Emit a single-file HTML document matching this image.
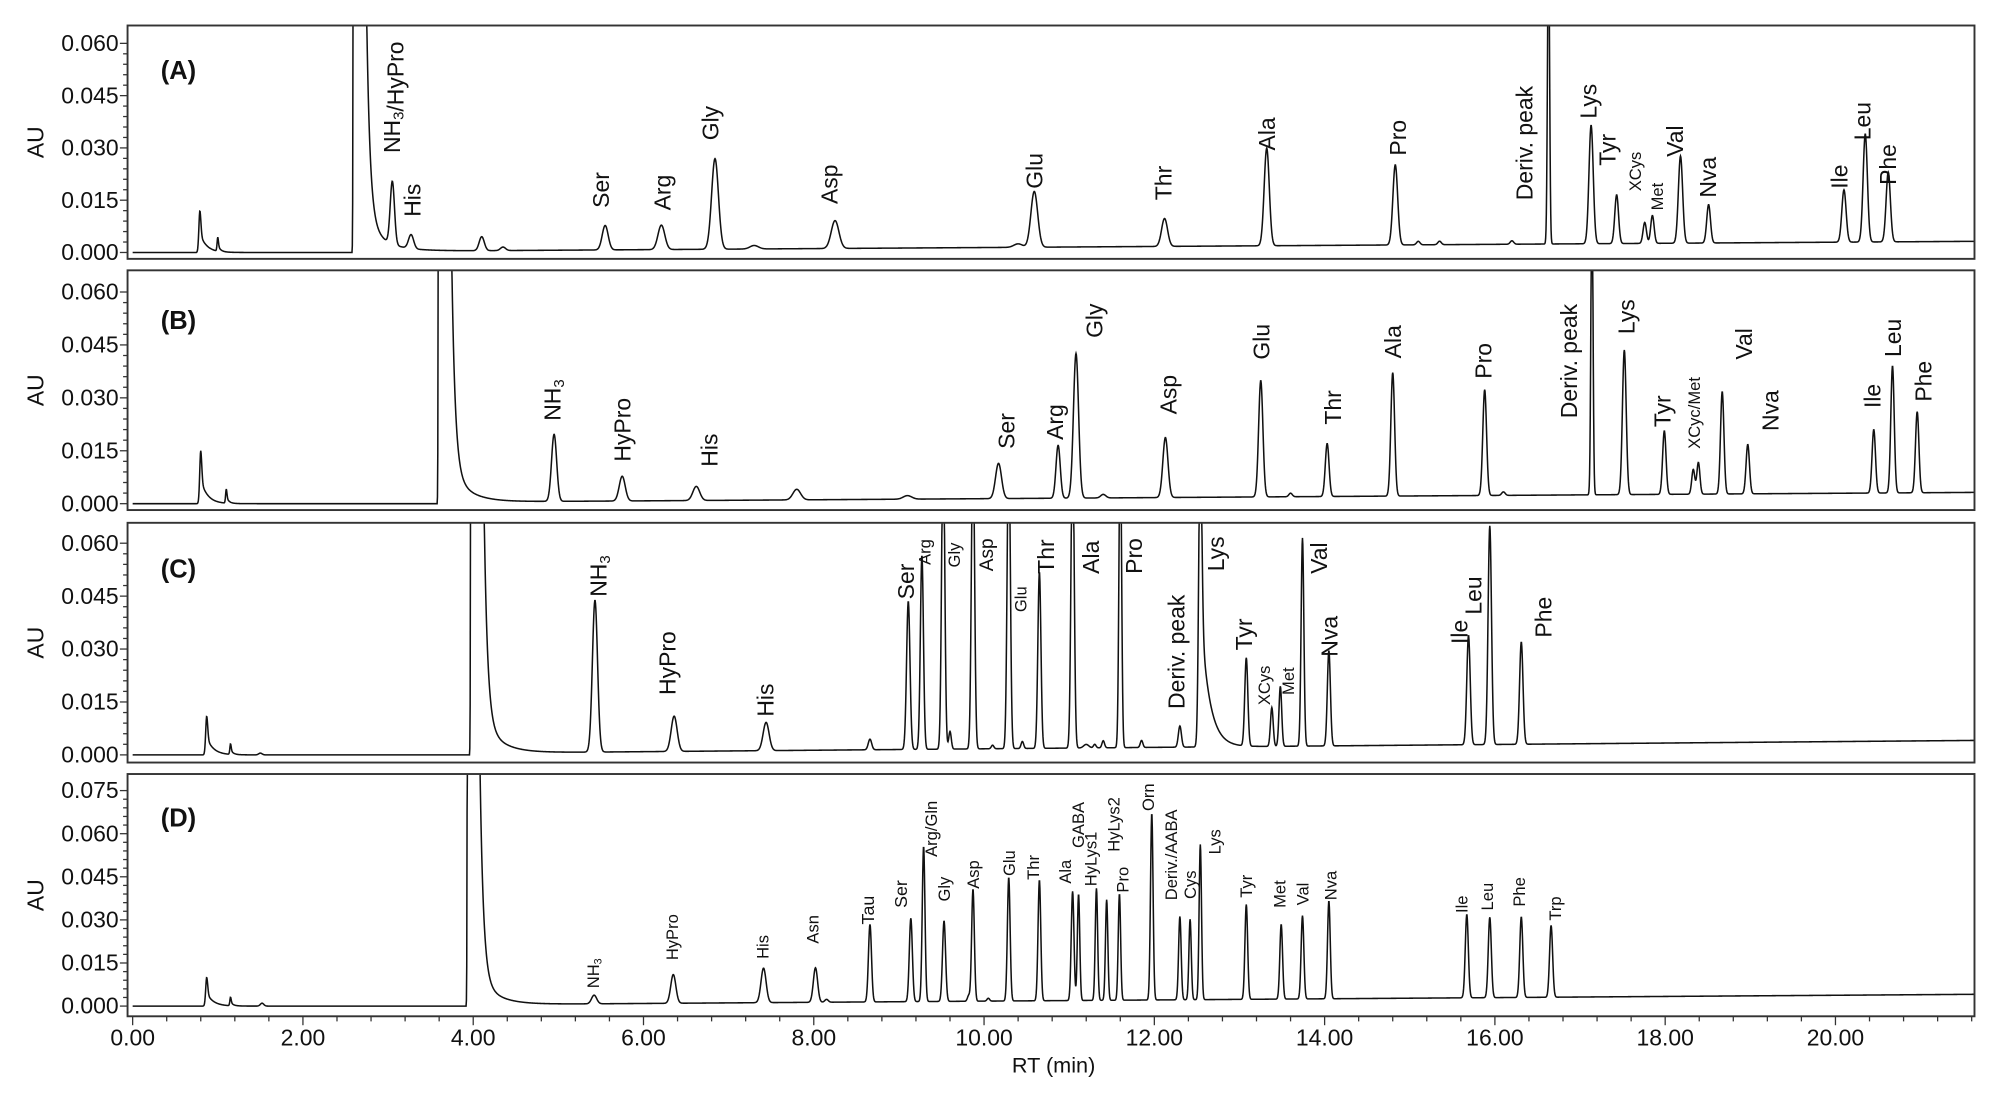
<!DOCTYPE html>
<html><head><meta charset="utf-8"><style>
html,body{margin:0;padding:0;background:#fff;}
svg{display:block;}
text{font-family:"Liberation Sans",Arial,sans-serif;fill:#111;}
</style></head><body>
<svg id="s" width="2000" height="1103" viewBox="0 0 1568 865" preserveAspectRatio="none" xmlns="http://www.w3.org/2000/svg"></svg>
<script>
const S=document.getElementById('s');let out='';
const X0=104,PX=66.75,L=100,R=1548;
const tx=t=>X0+PX*t;
const panels=[
 {top:20,bot:203,y0:198,ymax:0.060,ytop:34,ticks:[0,0.015,0.030,0.045,0.060],name:'(A)',ly:62,
  solv:2.6,end:0.003,
  peaks:[[0.79,0.012,0.012,0.08],[1.0,0.004,0.008,0.03],[3.05,0.018,0.025,0],[3.27,0.004,0.03,0],[4.1,0.004,0.03,0],[4.35,0.001,0.03,0],[5.55,0.007,0.035,0],[6.21,0.007,0.04,0],[6.84,0.026,0.04,0],[7.3,0.001,0.05,0],[8.25,0.008,0.045,0],[10.4,0.001,0.05,0],[10.59,0.016,0.04,0],[12.12,0.008,0.035,0],[13.32,0.028,0.03,0],[14.83,0.023,0.028,0],[15.1,0.001,0.02,0],[15.35,0.001,0.02,0],[16.2,0.001,0.02,0],[16.63,0.09,0.012,0],[17.13,0.034,0.025,0],[17.43,0.014,0.022,0],[17.76,0.006,0.02,0],[17.85,0.008,0.02,0],[18.18,0.025,0.025,0],[18.51,0.011,0.022,0],[20.1,0.015,0.025,0],[20.35,0.031,0.025,0],[20.62,0.020,0.025,0]],
  labels:[[307,120,'NH3/HyPro',18],[323,170,'His',18],[471,163,'Ser',18],[519,165,'Arg',18],[557,110,'Gly',18],[650,160,'Asp',18],[811,148,'Glu',18],[912,157,'Thr',18],[993,118,'Ala',18],[1096,122,'Pro',18],[1195,157,'Deriv. peak',18],[1245,93,'Lys',18],[1260,130,'Tyr',18],[1282,150,'XCys',13],[1299,165,'Met',13],[1313,123,'Val',18],[1339,155,'Nva',18],[1442,148,'Ile',18],[1460,110,'Leu',18],[1480,145,'Phe',18]]},
 {top:212,bot:400,y0:395,ymax:0.060,ytop:229,ticks:[0,0.015,0.030,0.045,0.060],name:'(B)',ly:258,
  solv:3.6,end:0.003,
  peaks:[[0.8,0.015,0.012,0.08],[1.1,0.004,0.008,0.03],[4.95,0.019,0.03,0],[5.75,0.007,0.035,0],[6.62,0.004,0.04,0],[7.8,0.003,0.045,0],[9.1,0.001,0.05,0],[10.17,0.010,0.035,0],[10.87,0.015,0.025,0],[11.08,0.041,0.03,0],[11.4,0.001,0.03,0],[12.13,0.017,0.03,0],[13.25,0.033,0.025,0],[13.6,0.001,0.02,0],[14.03,0.015,0.022,0],[14.8,0.035,0.022,0],[15.88,0.030,0.022,0],[16.1,0.001,0.02,0],[17.14,0.09,0.012,0],[17.52,0.041,0.022,0],[17.99,0.018,0.02,0],[18.33,0.007,0.018,0],[18.39,0.009,0.018,0],[18.67,0.029,0.02,0],[18.97,0.014,0.02,0],[20.45,0.018,0.02,0],[20.67,0.036,0.02,0],[20.96,0.023,0.02,0]],
  labels:[[433,330,'NH3',18],[488,362,'HyPro',18],[556,366,'His',18],[789,352,'Ser',18],[827,345,'Arg',18],[858,265,'Gly',18],[916,325,'Asp',18],[989,282,'Glu',18],[1045,333,'Thr',18],[1092,281,'Ala',18],[1163,297,'Pro',18],[1230,328,'Deriv. peak',18],[1275,262,'Lys',18],[1303,335,'Tyr',18],[1328,352,'XCyc/Met',13],[1367,282,'Val',18],[1388,338,'Nva',18],[1468,320,'Ile',18],[1484,280,'Leu',18],[1508,315,'Phe',18]]},
 {top:410,bot:598,y0:592,ymax:0.060,ytop:426,ticks:[0,0.015,0.030,0.045,0.060],name:'(C)',ly:453,
  solv:3.98,end:0.004,
  peaks:[[0.87,0.011,0.012,0.08],[1.15,0.003,0.008,0.03],[1.5,0.0005,0.02,0],[5.43,0.043,0.03,0],[6.36,0.010,0.035,0],[7.44,0.008,0.035,0],[8.66,0.003,0.02,0],[9.11,0.042,0.02,0],[9.27,0.055,0.018,0],[9.52,0.09,0.018,0],[9.6,0.005,0.015,0],[9.87,0.09,0.018,0],[10.1,0.001,0.015,0],[10.29,0.09,0.018,0],[10.45,0.002,0.015,0],[10.65,0.050,0.018,0],[11.04,0.09,0.018,0],[11.2,0.001,0.03,0],[11.3,0.001,0.015,0],[11.4,0.002,0.015,0],[11.6,0.09,0.015,0],[11.85,0.002,0.015,0],[12.3,0.006,0.018,0],[12.54,0.09,0.018,0.1],[13.08,0.025,0.018,0],[13.38,0.011,0.016,0],[13.48,0.017,0.016,0],[13.74,0.059,0.016,0],[14.05,0.027,0.018,0],[15.69,0.031,0.02,0],[15.94,0.062,0.02,0],[16.31,0.029,0.02,0]],
  labels:[[469,468,'NH3',18],[523,545,'HyPro',18],[600,562,'His',18],[710,470,'Ser',18],[725,443,'Arg',13],[748,445,'Gly',13],[773,448,'Asp',15],[800,480,'Glu',13],[820,450,'Thr',18],[855,450,'Ala',18],[889,450,'Pro',18],[922,556,'Deriv. peak',18],[953,448,'Lys',18],[975,510,'Tyr',18],[991,553,'XCys',13],[1010,545,'Met',13],[1034,450,'Val',18],[1042,515,'Nva',18],[1144,505,'Ile',18],[1155,482,'Leu',18],[1210,500,'Phe',18]]},
 {top:607,bot:797,y0:789,ymax:0.075,ytop:620,ticks:[0,0.015,0.030,0.045,0.060,0.075],name:'(D)',ly:648,
  solv:3.94,end:0.004,
  peaks:[[0.87,0.010,0.012,0.08],[1.15,0.003,0.008,0.03],[1.52,0.001,0.02,0],[5.42,0.003,0.03,0],[6.35,0.010,0.03,0],[7.41,0.012,0.03,0],[8.02,0.012,0.025,0],[8.15,0.001,0.02,0],[8.66,0.027,0.018,0],[9.14,0.029,0.018,0],[9.29,0.054,0.016,0],[9.53,0.028,0.018,0],[9.82,0.002,0.015,0],[9.87,0.039,0.016,0],[10.05,0.001,0.015,0],[10.29,0.043,0.016,0],[10.65,0.042,0.016,0],[11.04,0.038,0.016,0],[11.11,0.037,0.014,0],[11.32,0.039,0.014,0],[11.44,0.035,0.014,0],[11.59,0.037,0.014,0],[11.97,0.065,0.015,0],[12.3,0.029,0.015,0],[12.42,0.028,0.014,0],[12.54,0.054,0.014,0],[13.08,0.033,0.016,0],[13.49,0.026,0.016,0],[13.74,0.029,0.016,0],[14.05,0.034,0.016,0],[15.67,0.029,0.018,0],[15.94,0.028,0.018,0],[16.31,0.028,0.018,0],[16.66,0.025,0.018,0]],
  labels:[[465,775,'NH3',13],[527,753,'HyPro',13],[598,752,'His',13],[637,740,'Asn',13],[680,725,'Tau',14],[706,712,'Ser',14],[730,672,'Arg/Gln',13],[740,707,'Gly',13],[763,697,'Asp',13],[791,687,'Glu',13],[810,690,'Thr',13],[835,693,'Ala',13],[845,665,'GABA',13],[855,695,'HyLys1',13],[873,668,'HyLys2',13],[880,700,'Pro',13],[900,636,'Orn',13],[918,706,'Deriv./AABA',13],[933,705,'Cys',13],[952,670,'Lys',13],[977,704,'Tyr',13],[1003,712,'Met',13],[1021,710,'Val',13],[1043,706,'Nva',13],[1146,716,'Ile',13],[1166,714,'Leu',13],[1191,711,'Phe',13],[1219,722,'Trp',13]]}
];
panels.forEach((p,i)=>{
  const sc=(p.y0-p.ytop)/p.ymax;
  out+=`<clipPath id="c${i}"><rect x="${L}" y="${p.top}" width="${R-L}" height="${p.bot-p.top}"/></clipPath>`;
  let d='';const tmax=(R-X0)/PX;
  for(let t=0;t<=tmax;t+=0.004){
    let y=p.end*Math.max(0,(t-4)/(tmax-4))*0.9+ (t>p.solv? 0.0005:0);
    if(t>=p.solv-0.02){const dt=t-p.solv; y+= dt<0? 0.5*Math.exp(-(dt*dt)/(2*0.006*0.006)) : (dt<0.12?1: 0.12*Math.exp(-(dt-0.12)/0.04)+0.01*Math.exp(-(dt-0.12)/0.2));}
    for(const [c,h,s,tau] of p.peaks){const dt=t-c;let v;
      if(tau>0){v = dt<0? h*Math.exp(-dt*dt/(2*s*s)) : h*(0.55*Math.exp(-dt*dt/(2*s*s))+0.45*Math.exp(-dt/tau));}
      else v=h*Math.exp(-dt*dt/(2*s*s));
      y+=v;}
    if(t<0.75) y=0;
    let py=p.y0-y*sc; if(py<p.top-5) py=p.top-5;
    d+=(d?'L':'M')+tx(t).toFixed(2)+','+py.toFixed(2);
  }
  out+=`<path d="${d}" fill="none" stroke="#111" stroke-width="1.2" clip-path="url(#c${i})"/>`;
  out+=`<rect x="${L}" y="${p.top}" width="${R-L}" height="${p.bot-p.top}" fill="none" stroke="#333" stroke-width="1.5"/>`;
  const step=0.003;
  for(let v=0;v<=p.ymax+1e-9;v+=step){const y=p.y0-v*sc;const maj=Math.abs(v/0.015-Math.round(v/0.015))<1e-6;
    out+=`<line x1="${L-(maj?6:3.5)}" x2="${L}" y1="${y}" y2="${y}" stroke="#333" stroke-width="1"/>`;}
  p.ticks.forEach(v=>{out+=`<text x="93" y="${p.y0-v*sc+6}" font-size="18" text-anchor="end">${v.toFixed(3)}</text>`;});
  out+=`<text transform="translate(34,${(p.top+p.bot)/2}) rotate(-90)" font-size="18" text-anchor="middle">AU</text>`;
  out+=`<text x="126" y="${p.ly}" font-size="20" font-weight="bold">${p.name}</text>`;
  p.labels.forEach(([x,y,s,f])=>{
    let txt=s.replace('NH3',`NH<tspan font-size="${f*0.65}" dy="${f*0.15}">3</tspan><tspan dy="${-f*0.15}"></tspan>`);
    out+=`<text transform="translate(${x+f*0.36},${y}) rotate(-90)" font-size="${f}">${txt}</text>`;});
});
const bp=panels[3];
for(let t=0;t<=21.6;t+=0.4){const x=tx(t);const maj=Math.abs(t/2-Math.round(t/2))<1e-6;
  if(x>R)break;out+=`<line x1="${x}" x2="${x}" y1="${bp.bot}" y2="${bp.bot+(maj?7:4)}" stroke="#333" stroke-width="1"/>`;
  if(maj)out+=`<text x="${x}" y="820" font-size="18" text-anchor="middle">${t.toFixed(2)}</text>`;}
out+=`<text x="826" y="841" font-size="17" text-anchor="middle">RT (min)</text>`;
S.innerHTML=out;
</script>
</body></html>
